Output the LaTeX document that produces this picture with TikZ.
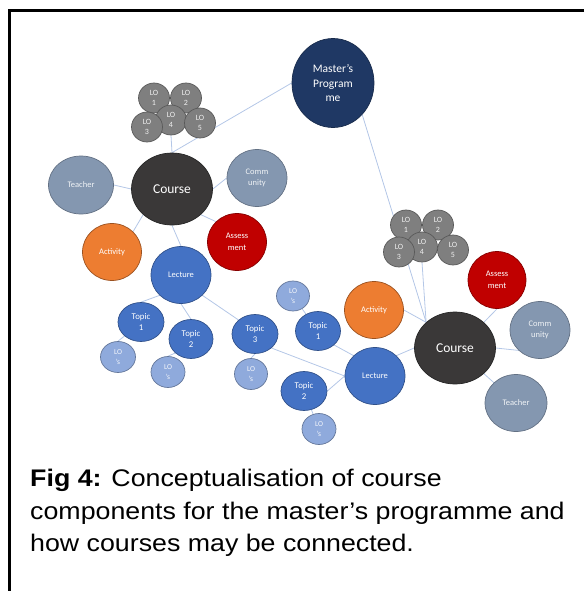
\documentclass[tikz,border=0pt]{standalone}
\usepackage{fontspec}
\setmainfont{Liberation Sans}
\newfontfamily\calibri{Carlito}
\usetikzlibrary{shapes.geometric,backgrounds}
\definecolor{progblue}{HTML}{1F3864}
\definecolor{logray}{HTML}{7F7F7F}
\definecolor{coursegray}{HTML}{3A3838}
\definecolor{slate}{HTML}{8497B0}
\definecolor{assessred}{HTML}{C00000}
\definecolor{actorange}{HTML}{ED7D31}
\definecolor{lectblue}{HTML}{4472C4}
\definecolor{loslight}{HTML}{8FAADC}
\definecolor{linkblue}{HTML}{B4C7E7}
\tikzset{bubble/.style={ellipse,draw,inner sep=0pt,align=center,text=white,line width=0.7pt},
  prog node/.style={bubble,fill=progblue,draw=progblue!75!black,minimum width=82pt,minimum height=89pt,font=\calibri\fontsize{11.5}{14.5}\selectfont},
  lo node/.style={bubble,fill=logray,draw=logray!70!black,minimum width=31pt,minimum height=30pt,text=white!88!logray,font=\calibri\fontsize{8}{10.5}\selectfont},
  course node/.style={bubble,fill=coursegray,draw=black!85,minimum width=81pt,minimum height=72pt,font=\calibri\fontsize{13.5}{16}\selectfont},
  side node/.style={bubble,fill=slate,draw=slate!75!black,minimum width=60pt,minimum height=57pt,text=white!88!slate,font=\calibri\fontsize{8.5}{11.5}\selectfont},
  assess node/.style={bubble,fill=assessred,draw=assessred!70!black,minimum width=59pt,minimum height=57pt,font=\calibri\fontsize{8.5}{11.5}\selectfont},
  act node/.style={bubble,fill=actorange,draw=actorange!65!black,minimum width=59pt,minimum height=57pt,font=\calibri\fontsize{8.5}{11.5}\selectfont},
  lecture node/.style={bubble,fill=lectblue,draw=lectblue!70!black,minimum width=60pt,minimum height=57pt,font=\calibri\fontsize{8.5}{11.5}\selectfont},
  topic node/.style={bubble,fill=lectblue,draw=lectblue!70!black,minimum width=46pt,minimum height=39pt,font=\calibri\fontsize{8.8}{11}\selectfont},
  los node/.style={bubble,fill=loslight,draw=loslight!70!black,minimum width=34pt,minimum height=31pt,text=white!92!loslight,font=\calibri\fontsize{7.5}{9.5}\selectfont},
}

\begin{document}
\begin{tikzpicture}[x=1pt,y=-1pt]
    \useasboundingbox (0,0) rectangle (584,591);
    \draw[line width=2.2pt] (584,10.5) -- (9.5,10.5) -- (9.5,591);

    \node[prog node] (prog) at (333,83) {Master’s\\Program\\me};

    % first course
    \node[course node] (courseA) at (172,189) {Course};
    \node[side node,minimum width=65pt,minimum height=58pt] (teachA) at (81,185) {Teacher};
    \node[side node] (commA) at (257,178) {Comm\\unity};
    \node[assess node] (assessA) at (237,242) {Assess\\ment};
    \node[act node] (actA) at (112,252) {Activity};
    \node[lecture node] (lectA) at (181,275) {Lecture};
    \node[topic node] (topA1) at (141,322) {Topic\\1};
    \node[topic node,minimum width=44pt] (topA2) at (191,339) {Topic\\2};
    \node[topic node] (top3) at (255,334) {Topic\\3};
    \node[los node,minimum width=35pt] (losA1) at (118,357) {LO\\’s};
    \node[los node] (losA2) at (168,372) {LO\\’s};
    \node[los node,minimum width=33pt] (los3) at (251,374) {LO\\’s};
    \node[lo node] (loA1) at (154,98) {LO\\1};
    \node[lo node] (loA2) at (186,98) {LO\\2};
    \node[lo node] (loA4) at (171,120) {LO\\4};
    \node[lo node] (loA3) at (147,127) {LO\\3};
    \node[lo node] (loA5) at (200,123) {LO\\5};

    % second course
    \node[course node] (courseB) at (455,348) {Course};
    \node[assess node,minimum width=58pt] (assessB) at (497,280) {Assess\\ment};
    \node[side node] (commB) at (540,330) {Comm\\unity};
    \node[side node,minimum width=62pt] (teachB) at (516,403) {Teacher};
    \node[act node] (actB) at (374,310) {Activity};
    \node[lecture node] (lectB) at (375,376) {Lecture};
    \node[topic node,minimum width=45pt] (topB1) at (318,331) {Topic\\1};
    \node[topic node] (topB2) at (304,391) {Topic\\2};
    \node[los node,minimum width=33pt,minimum height=30pt] (losB0) at (293,296) {LO\\’s};
    \node[los node] (losB2) at (319,429) {LO\\’s};
    \node[lo node] (loB1) at (406,225) {LO\\1};
    \node[lo node] (loB2) at (438,225) {LO\\2};
    \node[lo node] (loB4) at (422,247) {LO\\4};
    \node[lo node] (loB3) at (399,252) {LO\\3};
    \node[lo node] (loB5) at (453,250) {LO\\5};

    \begin{scope}[on background layer]
    \path[draw=linkblue,line width=0.8pt]
    (prog.west) edge (courseA.north)
    (prog.south east) edge (courseB.north west)
    (loA4.south) edge (courseA.north)
    (courseA.west) edge (teachA.east)
    (courseA.east) edge (commA.west)
    (courseA.south east) edge (assessA.north west)
    (courseA.south west) edge (actA.north east)
    (courseA.south) edge (lectA.north)
    (lectA.south west) edge (topA1.north)
    (lectA.south) edge (topA2.north)
    (lectA.south east) edge (top3.north west)
    (topA1.south west) edge (losA1.north)
    (topA2.south west) edge (losA2.north)
    (top3.south) edge (los3.north)
    (top3.south east) edge (lectB.west)
    (loB4.south) edge (courseB.north west)
    (courseB.north west) edge (actB.east)
    (courseB.north east) edge (assessB.south)
    (courseB.east) edge (commB.south west)
    (courseB.south east) edge (teachB.north west)
    (courseB.west) edge (lectB.north east)
    (lectB.north west) edge (topB1.south east)
    (lectB.west) edge (topB2.east)
    (topB1) edge (losB0)
    (topB2) edge (losB2);
    \end{scope}

    \begin{scope}[shift={(30,469)},xscale=1.115]
    \node[anchor=north west,inner sep=0pt,align=left,transform shape,
          font=\fontsize{24}{32.5}\selectfont] (caption) at (0,0)
    {\textbf{Fig 4:} Conceptualisation of course\\components for the master’s programme and\\how courses may be connected.};
    \end{scope}
\end{tikzpicture}
\end{document}
